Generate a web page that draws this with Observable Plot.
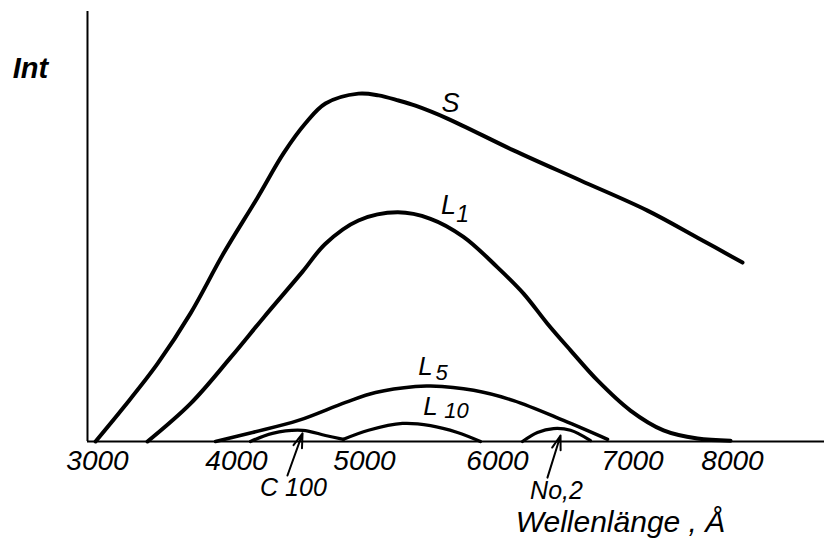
<!DOCTYPE html>
<html><head><meta charset="utf-8">
<script src="https://cdn.jsdelivr.net/npm/d3@7"></script>
<script src="https://cdn.jsdelivr.net/npm/@observablehq/plot@0.6"></script>
<style>body{margin:0;background:#fff}</style>
</head><body><div id="chart"></div>
<script>
// Tick labels on the wavelength axis (Å)
const xTicks = [3000, 4000, 5000, 6000, 7000, 8000];

// Curve S
const sWave = [2986, 3187, 3432, 3669, 3906, 4164, 4367, 4539, 4695, 4953, 5105, 5256, 5383, 5624, 6119, 6615, 7150, 7650, 8100];
const sInt  = [0, 7.9, 18.1, 29.8, 43.7, 56.7, 67.0, 74.0, 78.6, 80.9, 80.5, 79.3, 78.1, 75.1, 67.7, 60.7, 53.7, 47.4, 41.6];
// Curve L1
const l1Wave = [3360, 3669, 3957, 4211, 4516, 4695, 4953, 5248, 5496, 5744, 6000, 6193, 6370, 6541, 6741, 6985, 7310, 7650, 7980];
const l1Int  = [0, 8.8, 19.5, 28.8, 39.5, 46.0, 51.4, 53.3, 51.8, 47.6, 40.5, 34.4, 27.4, 21.2, 14.2, 7.2, 2.6, 0.7, 0.2];
// Curve L5
const l5Wave = [3849, 4125, 4484, 4852, 5083, 5383, 5496, 5820, 6119, 6489, 6815];
const l5Int  = [0, 2.1, 4.9, 9.1, 11.4, 12.8, 12.9, 11.9, 9.5, 4.9, 0.5];
// Curve L10
const l10Wave = [4836, 5030, 5286, 5496, 5699, 5872];
const l10Int  = [0.5, 2.6, 4.2, 3.7, 2.1, 0];
// Curve C 100
const cWave = [4109, 4281, 4516, 4695, 4836];
const cInt  = [0, 1.9, 2.6, 1.4, 0.5];
// Curve No,2
const nWave = [6185, 6296, 6415, 6541, 6689];
const nInt  = [0, 2.1, 3.0, 2.6, 0.2];

// Arrows pointing at the small curves: [tailWave, tailInt, headWave, headInt]
const arrowNames = ["C 100", "No,2"];
const arrowTail = [[4398, -7.9], [6370, -8.4]];
const arrowHead = [[4516, 1.9], [6467, 1.4]];

// Curve labels
const labelText = ["S", "L", "1", "L", "5", "L", "10", "C 100", "No,2"];
const labelWave = [5647, 5632, 5737, 5459, 5579, 5496, 5692, 4445, 6437];
const labelInt  = [78.6, 54.9, 52.8, 17.4, 16.0, 8.1, 7.0, -10.9, -11.4];
const labelSize = [27, 27, 23, 26, 22, 26, 22, 25, 25];

const rows = (w, v) => w.map((d, i) => ({w: d, v: v[i]}));
const arrows = arrowNames.map((n, i) => ({name: n, x1: arrowTail[i][0], y1: arrowTail[i][1], x2: arrowHead[i][0], y2: arrowHead[i][1]}));
const labels = labelText.map((t, i) => ({t, w: labelWave[i], v: labelInt[i], s: labelSize[i]}));

const font = "Liberation Sans, Arial, sans-serif";

const chart = Plot.plot({
  width: 824,
  height: 543,
  marginLeft: 87,
  marginRight: 0,
  marginTop: 11,
  marginBottom: 102,
  style: {fontFamily: font, fontStyle: "italic", background: "#fff", color: "#000"},
  x: {type: "linear", domain: xTicks, range: [97, 236, 364, 497, 632, 732]},
  y: {domain: [0, 100], axis: null},
  marks: [
    Plot.ruleX([2928], {y1: 0, y2: 100, stroke: "#000", strokeWidth: 2}),
    Plot.ruleY([0], {x1: 2928, x2: 8920, stroke: "#000", strokeWidth: 2}),
    Plot.axisX({ticks: xTicks, tickSize: 0, tickPadding: 9, tickFormat: d => String(d), fontSize: 28, label: null, fontStyle: "italic"}),
    Plot.line(rows(sWave, sInt), {x: "w", y: "v", curve: "catmull-rom", stroke: "#000", strokeWidth: 4}),
    Plot.line(rows(l1Wave, l1Int), {x: "w", y: "v", curve: "catmull-rom", stroke: "#000", strokeWidth: 4}),
    Plot.line(rows(l5Wave, l5Int), {x: "w", y: "v", curve: "catmull-rom", stroke: "#000", strokeWidth: 3.5}),
    Plot.line(rows(l10Wave, l10Int), {x: "w", y: "v", curve: "catmull-rom", stroke: "#000", strokeWidth: 3.2}),
    Plot.line(rows(cWave, cInt), {x: "w", y: "v", curve: "catmull-rom", stroke: "#000", strokeWidth: 3.2}),
    Plot.line(rows(nWave, nInt), {x: "w", y: "v", curve: "catmull-rom", stroke: "#000", strokeWidth: 3.2}),
    Plot.arrow(arrows, {x1: "x1", y1: "y1", x2: "x2", y2: "y2", stroke: "#000", strokeWidth: 2, headLength: 12, headAngle: 35}),
    Plot.text(labels, {x: "w", y: "v", text: "t", fontSize: "s", fill: "#000", fontStyle: "italic"}),
    Plot.text(["Int"], {x: 2518, y: 86.7, text: d => d, fontSize: 29, fill: "#000", fontStyle: "italic", fontWeight: "bold"}),
    Plot.text(["Wellenlänge , Å"], {x: 6911, y: -18.8, text: d => d, fontSize: 30, fill: "#000", fontStyle: "italic"})
  ]
});
document.getElementById("chart").appendChild(chart);
</script>
</body></html>
